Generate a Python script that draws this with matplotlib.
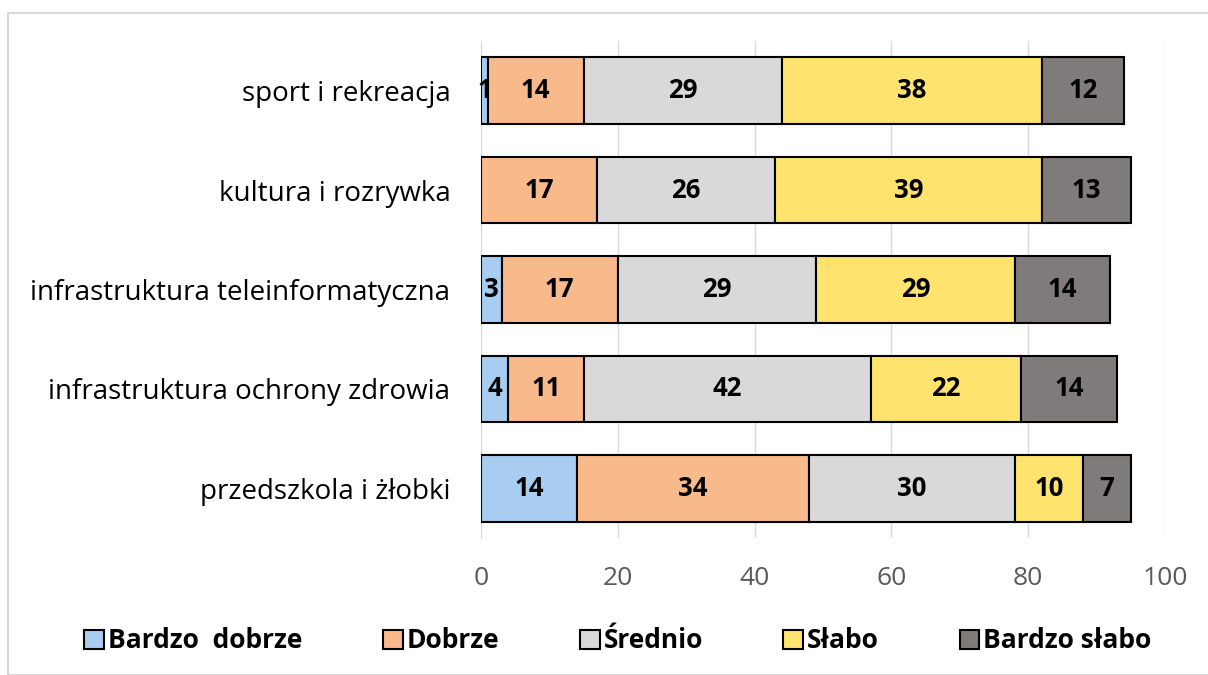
import matplotlib
matplotlib.use("Agg")
import matplotlib.pyplot as plt
from matplotlib.patches import Rectangle, Patch
import numpy as np

categories = ["przedszkola i żłobki", "infrastruktura ochrony zdrowia",
              "infrastruktura teleinformatyczna", "kultura i rozrywka",
              "sport i rekreacja"]
series_names = ["Bardzo  dobrze", "Dobrze", "Średnio", "Słabo", "Bardzo słabo"]
bardzo_dobrze = [14, 4, 3, 0, 1]
dobrze = [34, 11, 17, 17, 14]
srednio = [30, 42, 29, 26, 29]
slabo = [10, 22, 29, 39, 38]
bardzo_slabo = [7, 14, 14, 13, 12]
xticks = [0, 20, 40, 60, 80, 100]

series = [bardzo_dobrze, dobrze, srednio, slabo, bardzo_slabo]
colors = ["#A8CDF0", "#F9BA8B", "#D9D9D9", "#FFE36F", "#7F7B7A"]

plt.rcParams['font.family'] = ['Open Sans', 'DejaVu Sans']

fig = plt.figure(figsize=(12.08, 6.75), dpi=100)
fig.patches.append(Rectangle((8/1208, 0), 1.2, 1 - 13/675, transform=fig.transFigure,
                             fill=False, edgecolor="#D9D9D9", linewidth=1.5))
ax = fig.add_axes([481/1208, 1 - 538/675, (1165 - 481)/1208, (538 - 41)/675])

y = np.arange(len(categories))
left = np.zeros(len(categories))
for name, vals, c in zip(series_names, series, colors):
    vals = np.array(vals, dtype=float)
    ax.barh(y, vals, left=left, height=0.67, color=c, edgecolor="black",
            linewidth=1.5, label=name, zorder=3)
    for yi, (l, v) in enumerate(zip(left, vals)):
        if v > 0:
            ax.text(l + v / 2, yi, f"{int(v)}", ha="center", va="center",
                    fontsize=18.5, fontweight="bold", color="black", zorder=4)
    left += vals

ax.set_xlim(0, 100)
ax.set_ylim(-0.5, len(categories) - 0.5)
ax.set_xticks(xticks)
ax.set_xticklabels([str(t) for t in xticks], fontsize=19, color="#595959")
ax.set_yticks(y)
ax.set_yticklabels(categories, fontsize=20, color="black")
ax.tick_params(axis="both", length=0)
ax.tick_params(axis="x", pad=20)
ax.tick_params(axis="y", pad=22)
ax.grid(axis="x", color="#D9D9D9", linewidth=1, zorder=0)
for s in ["top", "right", "bottom"]:
    ax.spines[s].set_visible(False)
ax.spines["left"].set_color("#D9D9D9")

handles = [Patch(facecolor=c, edgecolor="black", linewidth=1.5) for c in colors]
leg = fig.legend(handles, series_names, loc="center", bbox_to_anchor=(618/1208, 1 - 641/675),
                 ncol=5, frameon=False, prop={'weight': 'bold', 'size': 19},
                 handlelength=0.75, handleheight=0.75, handletextpad=0.15, columnspacing=3.05)

fig.savefig("out.png", dpi=100)
